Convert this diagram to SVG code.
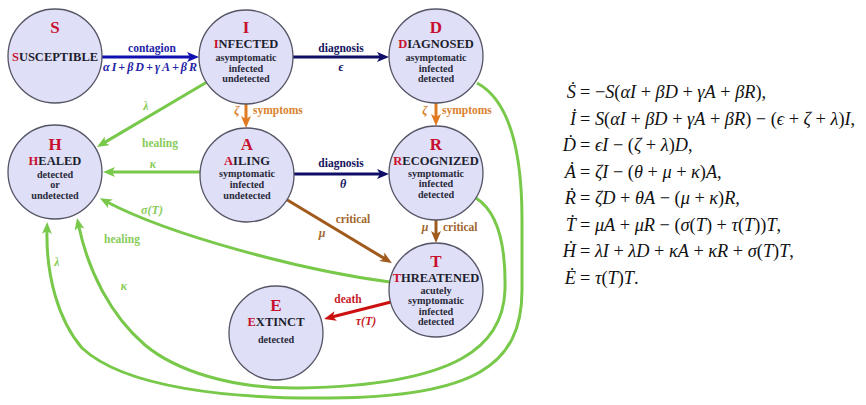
<svg xmlns="http://www.w3.org/2000/svg" width="866" height="405" viewBox="0 0 866 405" font-family="'Liberation Serif', 'DejaVu Serif', serif">
<style>
  .node{fill:#dfe0f7;stroke:#555566;stroke-width:1.3}
  .big{font-size:17px;font-weight:bold;fill:#c8102e;text-anchor:middle}
  .nm{font-size:12.5px;font-weight:bold;fill:#1e1e2e;text-anchor:middle}
  .ds{font-size:10.2px;font-weight:bold;fill:#2a2a3a;text-anchor:middle}
  .red{fill:#c8102e}
  .lb{font-size:11.5px;font-weight:bold}
  .gk{font-size:12px;font-style:italic;font-weight:bold}
  .c-blue{fill:#2424a8}.c-navy{fill:#14145e}.c-or{fill:#d98230}.c-br{fill:#a0662e}.c-gr{fill:#88cc5a}.c-rd{fill:#c81c2a}
  .ln{fill:none;stroke-width:3}
  .eq{font-size:18.3px;fill:#111}
  .i{font-style:italic}
</style>
<defs>
  <marker id="mBlue" markerUnits="userSpaceOnUse" markerWidth="12" markerHeight="10" viewBox="0 0 12 10" refX="4" refY="5" orient="auto"><path d="M0,0 L12,5 L0,10 L3,5 z" fill="#1010b0"/></marker>
  <marker id="mNavy" markerUnits="userSpaceOnUse" markerWidth="12" markerHeight="10" viewBox="0 0 12 10" refX="4" refY="5" orient="auto"><path d="M0,0 L12,5 L0,10 L3,5 z" fill="#0e0e66"/></marker>
  <marker id="mOr" markerUnits="userSpaceOnUse" markerWidth="12" markerHeight="10" viewBox="0 0 12 10" refX="4" refY="5" orient="auto"><path d="M0,0 L12,5 L0,10 L3,5 z" fill="#e07a20"/></marker>
  <marker id="mBr" markerUnits="userSpaceOnUse" markerWidth="12" markerHeight="10" viewBox="0 0 12 10" refX="4" refY="5" orient="auto"><path d="M0,0 L12,5 L0,10 L3,5 z" fill="#a05a1c"/></marker>
  <marker id="mGr" markerUnits="userSpaceOnUse" markerWidth="12" markerHeight="10" viewBox="0 0 12 10" refX="4" refY="5" orient="auto"><path d="M0,0 L12,5 L0,10 L3,5 z" fill="#78c84a"/></marker>
  <marker id="mRd" markerUnits="userSpaceOnUse" markerWidth="12" markerHeight="10" viewBox="0 0 12 10" refX="4" refY="5" orient="auto"><path d="M0,0 L12,5 L0,10 L3,5 z" fill="#cc1010"/></marker>
</defs>
<rect width="866" height="405" fill="#ffffff"/>

<g id="connectors">
  <path class="ln" d="M102,57 L191,57" stroke="#1010b0" stroke-width="3.5" marker-end="url(#mBlue)"/>
  <path class="ln" d="M293,57 L381,57" stroke="#0e0e66" marker-end="url(#mNavy)"/>
  <path class="ln" d="M246,104 L246,120" stroke="#e07a20" marker-end="url(#mOr)"/>
  <path class="ln" d="M436,103 L436,118" stroke="#e07a20" marker-end="url(#mOr)"/>
  <path class="ln" d="M294,174 L381,174" stroke="#0e0e66" marker-end="url(#mNavy)"/>
  <path class="ln" d="M436,220 L436,235" stroke="#a05a1c" marker-end="url(#mBr)"/>
  <path class="ln" d="M284,198 L385.1,258.9" stroke="#a05a1c" marker-end="url(#mBr)"/>
  <path class="ln" d="M391,302 L331.8,317" stroke="#cc1010" marker-end="url(#mRd)"/>
  <path class="ln" d="M207,82 L103.9,142.9" stroke="#78c84a" marker-end="url(#mGr)"/>
  <path class="ln" d="M200,172 L111,172" stroke="#78c84a" marker-end="url(#mGr)"/>
  <path class="ln" d="M390,282 C300,270 170,235 107,202" stroke="#78c84a" marker-end="url(#mGr)"/>
  <path class="ln" d="M477,83 C505,98 522,140 522,220 L522,290 C522,365 475,397 330,398 C230,399 125,388 82,348 C58,320 46,275 47,230" stroke="#78c84a" marker-end="url(#mGr)"/>
  <path class="ln" d="M476,198 C498,212 506,245 505,290 C503,345 460,385 300,388 C230,389 175,370 145,345 C110,315 88,270 78.7,225.8" stroke="#78c84a" marker-end="url(#mGr)"/>

  <text class="lb c-blue" x="152" y="51.5" text-anchor="middle">contagion</text>
  <text class="gk c-blue" x="150" y="71" text-anchor="middle" textLength="94" lengthAdjust="spacing">αI+βD+γA+βR</text>
  <text class="lb c-navy" x="341" y="51.5" text-anchor="middle">diagnosis</text>
  <text class="gk c-navy" x="341" y="71" text-anchor="middle">ϵ</text>
  <text class="gk c-or" x="237" y="114" text-anchor="middle">ζ</text>
  <text class="lb c-or" x="253" y="113.5">symptoms</text>
  <text class="gk c-or" x="425" y="114" text-anchor="middle">ζ</text>
  <text class="lb c-or" x="442" y="113.5">symptoms</text>
  <text class="lb c-navy" x="341" y="166.5" text-anchor="middle">diagnosis</text>
  <text class="gk c-navy" x="343" y="188" text-anchor="middle">θ</text>
  <text class="gk c-br" x="425" y="231" text-anchor="middle">μ</text>
  <text class="lb c-br" x="443" y="231">critical</text>
  <text class="lb c-br" x="353" y="222.5" text-anchor="middle">critical</text>
  <text class="gk c-br" x="322" y="237" text-anchor="middle">μ</text>
  <text class="lb c-rd" x="348" y="302.5" text-anchor="middle">death</text>
  <text class="gk c-rd" x="366" y="325" text-anchor="middle">τ(T)</text>
  <text class="gk c-gr" x="146" y="110" text-anchor="middle">λ</text>
  <text class="lb c-gr" x="160" y="146.5" text-anchor="middle">healing</text>
  <text class="gk c-gr" x="153" y="168" text-anchor="middle">κ</text>
  <text class="gk c-gr" x="152" y="214" text-anchor="middle">σ(T)</text>
  <text class="lb c-gr" x="122" y="242.5" text-anchor="middle">healing</text>
  <text class="gk c-gr" x="57" y="266" text-anchor="middle">λ</text>
  <text class="gk c-gr" x="124" y="290" text-anchor="middle">κ</text>
</g>

<g id="node-S">
  <circle class="node" cx="55" cy="56" r="47"/>
  <text class="big" x="55" y="33">S</text>
  <text class="nm" x="55" y="61"><tspan class="red">S</tspan>USCEPTIBLE</text>
</g>
<g id="node-I">
  <circle class="node" cx="246" cy="57" r="47"/>
  <text class="big" x="246" y="32.5">I</text>
  <text class="nm" x="246" y="47.5"><tspan class="red">I</tspan>NFECTED</text>
  <text class="ds" x="246" y="60.5">asymptomatic</text>
  <text class="ds" x="246" y="71.5">infected</text>
  <text class="ds" x="246" y="82">undetected</text>
</g>
<g id="node-D">
  <circle class="node" cx="436" cy="56" r="47"/>
  <text class="big" x="436" y="32.5">D</text>
  <text class="nm" x="436" y="47.5"><tspan class="red">D</tspan>IAGNOSED</text>
  <text class="ds" x="436" y="60.5">asymptomatic</text>
  <text class="ds" x="436" y="71.5">infected</text>
  <text class="ds" x="436" y="82">detected</text>
</g>
<g id="node-H">
  <circle class="node" cx="55" cy="172" r="47"/>
  <text class="big" x="55" y="149.5">H</text>
  <text class="nm" x="55" y="164.5"><tspan class="red">H</tspan>EALED</text>
  <text class="ds" x="55" y="177.5">detected</text>
  <text class="ds" x="55" y="188">or</text>
  <text class="ds" x="55" y="198.5">undetected</text>
</g>
<g id="node-A">
  <circle class="node" cx="247" cy="175" r="47"/>
  <text class="big" x="247" y="149.5">A</text>
  <text class="nm" x="247" y="164.5"><tspan class="red">A</tspan>ILING</text>
  <text class="ds" x="247" y="176.5">symptomatic</text>
  <text class="ds" x="247" y="187.5">infected</text>
  <text class="ds" x="247" y="198.5">undetected</text>
</g>
<g id="node-R">
  <circle class="node" cx="436" cy="173" r="47"/>
  <text class="big" x="436" y="149.5">R</text>
  <text class="nm" x="436" y="164.5"><tspan class="red">R</tspan>ECOGNIZED</text>
  <text class="ds" x="436" y="176.5">symptomatic</text>
  <text class="ds" x="436" y="187">infected</text>
  <text class="ds" x="436" y="198">detected</text>
</g>
<g id="node-T">
  <circle class="node" cx="436" cy="290" r="47"/>
  <text class="big" x="436" y="266.5">T</text>
  <text class="nm" x="436" y="281.5"><tspan class="red">T</tspan>HREATENED</text>
  <text class="ds" x="436" y="293.5">acutely</text>
  <text class="ds" x="436" y="304">symptomatic</text>
  <text class="ds" x="436" y="314.5">infected</text>
  <text class="ds" x="436" y="325">detected</text>
</g>
<g id="node-E">
  <circle class="node" cx="276" cy="333" r="47"/>
  <text class="big" x="276" y="310.5">E</text>
  <text class="nm" x="276" y="325.5"><tspan class="red">E</tspan>XTINCT</text>
  <text class="ds" x="276" y="343">detected</text>
</g>

<g id="equations">
  <text class="eq i" x="576" y="98" text-anchor="end">Ṡ</text>
  <text class="eq" x="580" y="98">= −<tspan class="i">S</tspan>(<tspan class="i">αI</tspan> + <tspan class="i">βD</tspan> + <tspan class="i">γA</tspan> + <tspan class="i">βR</tspan>),</text>
  <text class="eq i" x="576" y="124.5" text-anchor="end">İ</text>
  <text class="eq" x="580" y="124.5">= <tspan class="i">S</tspan>(<tspan class="i">αI</tspan> + <tspan class="i">βD</tspan> + <tspan class="i">γA</tspan> + <tspan class="i">βR</tspan>) − (<tspan class="i">ϵ</tspan> + <tspan class="i">ζ</tspan> + <tspan class="i">λ</tspan>)<tspan class="i">I</tspan>,</text>
  <text class="eq i" x="576" y="151" text-anchor="end">Ḋ</text>
  <text class="eq" x="580" y="151">= <tspan class="i">ϵI</tspan> − (<tspan class="i">ζ</tspan> + <tspan class="i">λ</tspan>)<tspan class="i">D</tspan>,</text>
  <text class="eq i" x="576" y="177.5" text-anchor="end">Ȧ</text>
  <text class="eq" x="580" y="177.5">= <tspan class="i">ζI</tspan> − (<tspan class="i">θ</tspan> + <tspan class="i">μ</tspan> + <tspan class="i">κ</tspan>)<tspan class="i">A</tspan>,</text>
  <text class="eq i" x="576" y="204" text-anchor="end">Ṙ</text>
  <text class="eq" x="580" y="204">= <tspan class="i">ζD</tspan> + <tspan class="i">θA</tspan> − (<tspan class="i">μ</tspan> + <tspan class="i">κ</tspan>)<tspan class="i">R</tspan>,</text>
  <text class="eq i" x="576" y="230.5" text-anchor="end">Ṫ</text>
  <text class="eq" x="580" y="230.5">= <tspan class="i">μA</tspan> + <tspan class="i">μR</tspan> − (<tspan class="i">σ</tspan>(<tspan class="i">T</tspan>) + <tspan class="i">τ</tspan>(<tspan class="i">T</tspan>))<tspan class="i">T</tspan>,</text>
  <text class="eq i" x="576" y="257" text-anchor="end">Ḣ</text>
  <text class="eq" x="580" y="257">= <tspan class="i">λI</tspan> + <tspan class="i">λD</tspan> + <tspan class="i">κA</tspan> + <tspan class="i">κR</tspan> + <tspan class="i">σ</tspan>(<tspan class="i">T</tspan>)<tspan class="i">T</tspan>,</text>
  <text class="eq i" x="576" y="283.5" text-anchor="end">Ė</text>
  <text class="eq" x="580" y="283.5">= <tspan class="i">τ</tspan>(<tspan class="i">T</tspan>)<tspan class="i">T</tspan>.</text>
</g>
</svg>
